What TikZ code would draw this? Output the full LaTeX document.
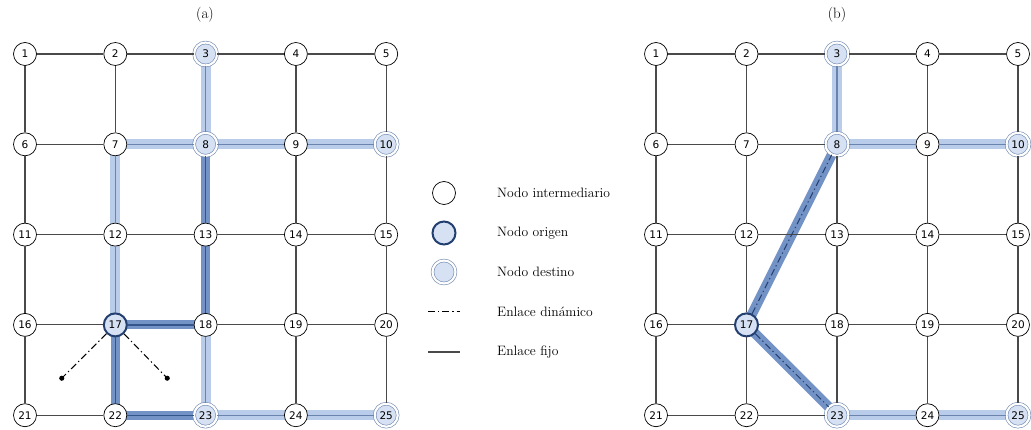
\documentclass[tikz,border=0pt]{standalone}
\usepackage{fontspec}
\newfontfamily\numfont{DejaVu Sans}
\usetikzlibrary{arrows.meta}
\definecolor{gridgray}{HTML}{4A4A4A}
\definecolor{nodefill}{HTML}{D6E2F4}
\definecolor{ringcol}{HTML}{7088B0}
\definecolor{origcol}{HTML}{223F70}
\definecolor{lightband}{HTML}{B9CDEA}
\definecolor{lightline}{HTML}{6A84AE}
\definecolor{darkband}{HTML}{7393C6}
\definecolor{darkline}{HTML}{34558C}
\pgfdeclarelayer{bg}
\pgfsetlayers{bg,main}
\tikzset{
  inter/.style={circle,draw=black,line width=0.7pt,fill=white,minimum size=23pt,inner sep=0pt,font=\numfont\fontsize{10.5}{12}\selectfont},
  orig/.style={inter,draw=origcol,line width=2pt,fill=nodefill},
  dest/.style={inter,fill=nodefill,draw=ringcol,line width=0.6pt,double=white,double distance=2.2pt},
  edge/.style={draw=gridgray,line width=1.2pt},
  lband/.style={draw=lightband,line width=10pt},
  dband/.style={draw=darkband,line width=9pt},
  lcenter/.style={draw=lightline,line width=1.1pt},
  dcenter/.style={draw=darkline,line width=1.3pt},
  dyn/.style={draw=black,line width=1pt,dash pattern=on 7pt off 3pt on 1.3pt off 3pt},
  dynb/.style={draw=origcol,line width=1pt,dash pattern=on 7pt off 3pt on 1.3pt off 3pt},
  legtext/.style={anchor=west,font=\fontsize{13.6}{16}\selectfont,inner sep=0pt},
  title/.style={font=\fontsize{15}{18}\selectfont,inner sep=0pt}
}
\begin{document}
\begin{tikzpicture}[x=1pt,y=-1pt]
\useasboundingbox (0,0) rectangle (1031,430);
% titles
\node[title] (ta) at (205,15) {(a)};
\node[title] (tb) at (837,15) {(b)};
% nodes (a)
\foreach \n/\s in {1/inter,2/inter,3/dest,4/inter,5/inter,6/inter,7/inter,8/dest,9/inter,10/dest,11/inter,12/inter,13/inter,14/inter,15/inter,16/inter,17/orig,18/inter,19/inter,20/inter,21/inter,22/inter,23/dest,24/inter,25/dest}{
  \pgfmathsetmacro\cx{25+mod(\n-1,5)*90.3}
  \pgfmathsetmacro\cy{54+floor((\n-1)/5)*90.3}
  \node[\s] (a\n) at (\cx,\cy) {\n};
}
% nodes (b)
\foreach \n/\s in {1/inter,2/inter,3/dest,4/inter,5/inter,6/inter,7/inter,8/dest,9/inter,10/dest,11/inter,12/inter,13/inter,14/inter,15/inter,16/inter,17/orig,18/inter,19/inter,20/inter,21/inter,22/inter,23/dest,24/inter,25/dest}{
  \pgfmathsetmacro\cx{656+mod(\n-1,5)*90.5}
  \pgfmathsetmacro\cy{54+floor((\n-1)/5)*90.3}
  \node[\s] (b\n) at (\cx,\cy) {\n};
}
% grid edges
\foreach \p in {a,b}{
  \foreach \r in {0,...,4}{
    \foreach \c in {1,...,4}{
      \pgfmathtruncatemacro\u{\r*5+\c}
      \pgfmathtruncatemacro\v{\u+1}
      \draw[edge] (\p\u) -- (\p\v);
    }
  }
  \foreach \u in {1,...,20}{
    \pgfmathtruncatemacro\v{\u+5}
    \draw[edge] (\p\u) -- (\p\v);
  }
}
% bands
\begin{pgfonlayer}{bg}
\foreach \u/\v in {17/12,12/7,7/8,8/3,8/9,9/10,18/23,23/24,24/25}{
  \draw[lband] (a\u.center) -- (a\v.center);
}
\foreach \u/\v in {8/13,13/18,17/18,17/22,22/23}{
  \draw[dband] (a\u.center) -- (a\v.center);
}
\foreach \u/\v in {8/3,8/9,9/10,23/24,24/25}{
  \draw[lband] (b\u.center) -- (b\v.center);
}
\foreach \u/\v in {17/8,17/23}{
  \draw[dband,line width=10pt] (b\u.center) -- (b\v.center);
}
\end{pgfonlayer}
\foreach \u/\v in {17/12,12/7,7/8,8/3,8/9,9/10,18/23,23/24,24/25}{
  \draw[lcenter] (a\u) -- (a\v);
}
\foreach \u/\v in {8/13,13/18,17/18,17/22,22/23}{
  \draw[dcenter] (a\u) -- (a\v);
}
\foreach \u/\v in {8/3,8/9,9/10,23/24,24/25}{
  \draw[lcenter] (b\u) -- (b\v);
}
\foreach \u/\v in {17/8,17/23}{
  \draw[dynb] (b\u) -- (b\v);
}
% dynamic links (a)
\coordinate (d1) at (60,380);
\coordinate (d2) at (169,380);
\draw[dyn,-{Circle[length=5pt]}] (a17) -- (d1);
\draw[dyn,-{Circle[length=5pt]}] (a17) -- (d2);
% legend
\node[inter] (l1) at (444,193) {};
\node[orig] (l2) at (444,233) {};
\node[dest] (l3) at (444,272) {};
\coordinate (l4a) at (428,312);
\coordinate (l4b) at (460,312);
\coordinate (l5a) at (428,352);
\coordinate (l5b) at (460,352);
\draw[dyn] (l4a) -- (l4b);
\draw[edge] (l5a) -- (l5b);
\node[legtext] (t1) at (497,193) {Nodo intermediario};
\node[legtext] (t2) at (497,233) {Nodo origen};
\node[legtext] (t3) at (497,272) {Nodo destino};
\node[legtext] (t4) at (497,312) {Enlace dinámico};
\node[legtext] (t5) at (497,352) {Enlace fijo};
\end{tikzpicture}
\end{document}
